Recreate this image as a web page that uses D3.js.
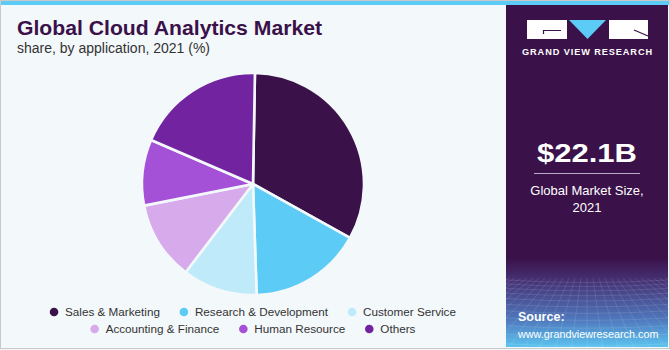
<!DOCTYPE html>
<html><head><meta charset="utf-8">
<script src="https://cdn.jsdelivr.net/npm/d3@7"></script>
<style>
html,body{margin:0;padding:0;background:#fff;}
svg{display:block;font-family:"Liberation Sans",Arial,sans-serif;}
</style></head>
<body>
<svg id="c" width="670" height="350"></svg>
<script>
const categories = ["Sales & Marketing","Research & Development","Customer Service","Accounting & Finance","Human Resource","Others"];
const shares = [32.8, 16.4, 10.9, 11.5, 9.6, 18.8];
const colors = ["#3a1149","#5ccbf5","#bfeaf9","#d6aaeb","#a451d7","#7223a0"];
const title = "Global Cloud Analytics Market";
const subtitle = "share, by application, 2021 (%)";
const marketSize = "$22.1B";
const marketLabel = ["Global Market Size,", "2021"];

const svg = d3.select("#c");
const W = 670, H = 350;

// background + frame
svg.append("rect").attr("width",W).attr("height",H).attr("fill","#f3f8fb");
svg.append("rect").attr("x",0.5).attr("y",0.5).attr("width",W-1).attr("height",H-2).attr("fill","none").attr("stroke","#c9c9c9");
svg.append("rect").attr("x",1).attr("y",1).attr("width",W-2).attr("height",4).attr("fill","#5ccbf5");

// right panel
const px = 506, pw = 162, py = 5, ph = 342;
const defs = svg.append("defs");
const g1 = defs.append("linearGradient").attr("id","pg").attr("x1",0).attr("y1",0).attr("x2",0).attr("y2",1);
[["0%","#3a1149"],["74%","#3a1149"],["81%","#463477"],["92%","#4f78bd"],["100%","#5cc4f0"]]
  .forEach(s=>g1.append("stop").attr("offset",s[0]).attr("stop-color",s[1]));
svg.append("rect").attr("x",px).attr("y",py).attr("width",pw).attr("height",ph).attr("fill","url(#pg)");
defs.append("clipPath").attr("id","pc").append("rect").attr("x",px).attr("y",278).attr("width",pw).attr("height",347-278);
const grid = svg.append("g").attr("clip-path","url(#pc)").attr("stroke","#ffffff").attr("stroke-opacity",0.16).attr("stroke-width",0.7).attr("fill","none");
for (let i=-24;i<=24;i++){
  const xTop = px + pw/2 + i*6;
  const xBot = px + pw/2 + i*16;
  grid.append("line").attr("x1",xTop).attr("y1",278).attr("x2",xBot).attr("y2",350);
}
let yy = 280, step = 4;
while (yy < 350){ grid.append("path").attr("d",`M${px},${yy} Q${px+pw/2},${yy+5} ${px+pw},${yy}`); yy += step; step *= 1.1; }

// logo
const lg = svg.append("g");
lg.append("rect").attr("x",527).attr("y",20).attr("width",40).attr("height",19).attr("fill","#fff");
lg.append("path").attr("d","M543,30.5 L561,30.5 M543.5,30 L543.5,34").attr("stroke","#3a1149").attr("stroke-width",1.2).attr("fill","none");
lg.append("path").attr("d","M569,20 L606,20 L587.5,39 Z").attr("fill","#5ccbf5");
lg.append("rect").attr("x",609).attr("y",20).attr("width",39).attr("height",19).attr("fill","#fff");
lg.append("path").attr("d","M634,30 L648,36").attr("stroke","#3a1149").attr("stroke-width",1.2).attr("fill","none");
lg.append("text").attr("x",587.5).attr("y",55).attr("text-anchor","middle").attr("fill","#fff")
  .attr("font-size",9.2).attr("font-weight","bold").attr("letter-spacing",0.9).text("GRAND VIEW RESEARCH");

// market size
svg.append("text").attr("x",537).attr("y",162).attr("fill","#fff")
  .attr("font-size",26).attr("font-weight","bold").attr("textLength",100).attr("lengthAdjust","spacingAndGlyphs").text(marketSize);
svg.append("line").attr("x1",534).attr("x2",640).attr("y1",173.5).attr("y2",173.5).attr("stroke","#b9a9c9").attr("stroke-width",1);
marketLabel.forEach((t,i)=>svg.append("text").attr("x",587).attr("y",195+i*17).attr("text-anchor","middle")
  .attr("fill","#fff").attr("font-size",13).text(t));

// source
svg.append("text").attr("x",518).attr("y",321).attr("fill","#fff").attr("font-size",12.5).attr("font-weight","bold").text("Source:");
svg.append("text").attr("x",518).attr("y",338).attr("fill","#fff").attr("font-size",10.8).text("www.grandviewresearch.com");

// titles
svg.append("text").attr("x",17).attr("y",35).attr("fill","#3a1149").attr("font-size",20.5).attr("font-weight","bold")
  .attr("textLength",305).attr("lengthAdjust","spacingAndGlyphs").text(title);
svg.append("text").attr("x",17).attr("y",53).attr("fill","#333").attr("font-size",14).text(subtitle);

// pie
const cx = 253, cy = 184, R = 111;
const pie = d3.pie().sort(null).value(d=>d).startAngle(1*Math.PI/180).endAngle(2*Math.PI + 1*Math.PI/180);
const arc = d3.arc().innerRadius(0).outerRadius(R);
svg.append("g").attr("transform",`translate(${cx},${cy})`)
  .selectAll("path").data(pie(shares)).join("path")
  .attr("d",arc).attr("fill",(d,i)=>colors[i]).attr("stroke","#f3f8fb").attr("stroke-width",2.6).attr("stroke-linejoin","round");

// legend
const rows = [[0,1,2],[3,4,5]];
const rowY = [312, 329];
const lgd = svg.append("g").attr("font-size",11.7).attr("fill","#333");
rows.forEach((row,ri)=>{
  const g = lgd.append("g");
  let x = 0;
  row.forEach((ci,k)=>{
    g.append("circle").attr("cx",x+4).attr("cy",rowY[ri]).attr("r",4.3).attr("fill",colors[ci]);
    const t = g.append("text").attr("x",x+15).attr("y",rowY[ri]+4.2).text(categories[ci]);
    const w = t.node().getComputedTextLength();
    x += 15 + w + (k<row.length-1 ? 20 : 0);
  });
  g.attr("transform",`translate(${253 - x/2},0)`);
});
</script>
</body></html>
